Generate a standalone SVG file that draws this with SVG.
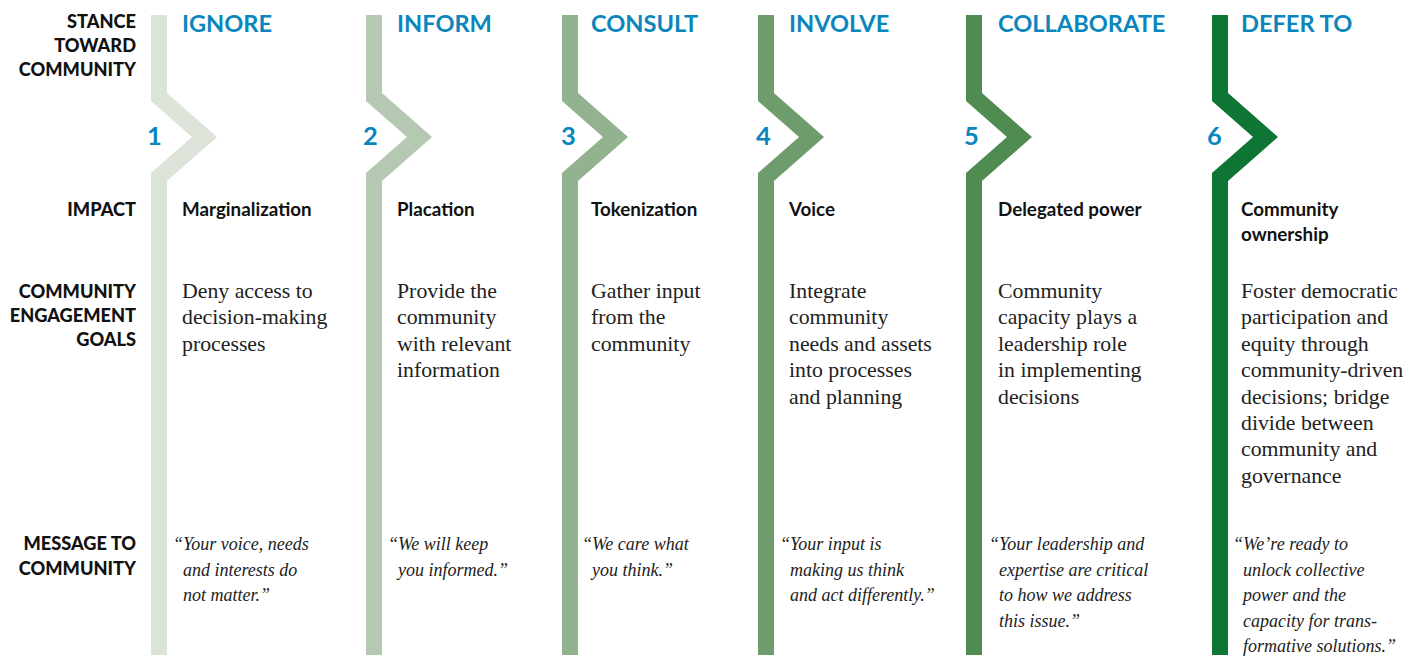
<svg xmlns="http://www.w3.org/2000/svg" xmlns:xlink="http://www.w3.org/1999/xlink" width="1415" height="661" viewBox="0 0 1415 661">
<style>
.lbl{font-family:Lato,"Liberation Sans",sans-serif;font-weight:900;font-size:18.2px;fill:#111;text-anchor:end}
.ttl{font-family:Lato,"Liberation Sans",sans-serif;font-weight:700;font-size:23.6px;fill:#0a86bd}
.num{font-family:Lato,"Liberation Sans",sans-serif;font-weight:700;font-size:25.5px;fill:#0a86bd}
.imp{font-family:Lato,"Liberation Sans",sans-serif;font-weight:700;font-size:18.8px;fill:#111}
.body{font-family:"Liberation Serif",serif;font-size:21.8px;fill:#222}
.quo{font-family:"Liberation Serif",serif;font-style:italic;font-size:18px;fill:#222}
</style>
<defs>
<path id="chev" d="M0,15 H16 V93 L66,137 L16,181 V655 H0 V173 L41,137 L0,101 Z"/>
</defs>
<rect width="1415" height="661" fill="#fff"/>
<g id="labels">
<text class="lbl"><tspan x="136" y="28">STANCE</tspan><tspan x="136" y="52">TOWARD</tspan><tspan x="136" y="76">COMMUNITY</tspan></text>
<text class="lbl" x="136" y="216">IMPACT</text>
<text class="lbl"><tspan x="136" y="298">COMMUNITY</tspan><tspan x="136" y="322">ENGAGEMENT</tspan><tspan x="136" y="346">GOALS</tspan></text>
<text class="lbl"><tspan x="136" y="550">MESSAGE TO</tspan><tspan x="136" y="575">COMMUNITY</tspan></text>
</g>
<g id="col1">
<use xlink:href="#chev" x="151" fill="#dce4da"/>
<text class="num" x="147" y="145">1</text>
<text class="ttl" x="182" y="32">IGNORE</text>
<text class="imp" x="182" y="216">Marginalization</text>
<text class="body"><tspan x="182" y="298">Deny access to</tspan><tspan x="182" y="324.4">decision-making</tspan><tspan x="182" y="350.8">processes</tspan></text>
<text class="quo"><tspan x="173" y="550">“Your voice, needs</tspan><tspan x="183" y="575.6">and interests do</tspan><tspan x="183" y="601.2">not matter.”</tspan></text>
</g>
<g id="col2">
<use xlink:href="#chev" x="366" fill="#b4c8b2"/>
<text class="num" x="363" y="145">2</text>
<text class="ttl" x="397" y="32">INFORM</text>
<text class="imp" x="397" y="216">Placation</text>
<text class="body"><tspan x="397" y="298">Provide the</tspan><tspan x="397" y="324.4">community</tspan><tspan x="397" y="350.8">with relevant</tspan><tspan x="397" y="377.2">information</tspan></text>
<text class="quo"><tspan x="388" y="550">“We will keep</tspan><tspan x="398" y="575.6">you informed.”</tspan></text>
</g>
<g id="col3">
<use xlink:href="#chev" x="562" fill="#93b28f"/>
<text class="num" x="561" y="145">3</text>
<text class="ttl" x="591" y="32">CONSULT</text>
<text class="imp" x="591" y="216">Tokenization</text>
<text class="body"><tspan x="591" y="298">Gather input</tspan><tspan x="591" y="324.4">from the</tspan><tspan x="591" y="350.8">community</tspan></text>
<text class="quo"><tspan x="582" y="550">“We care what</tspan><tspan x="592" y="575.6">you think.”</tspan></text>
</g>
<g id="col4">
<use xlink:href="#chev" x="758" fill="#6f9c6c"/>
<text class="num" x="756" y="145">4</text>
<text class="ttl" x="789" y="32">INVOLVE</text>
<text class="imp" x="789" y="216">Voice</text>
<text class="body"><tspan x="789" y="298">Integrate</tspan><tspan x="789" y="324.4">community</tspan><tspan x="789" y="350.8">needs and assets</tspan><tspan x="789" y="377.2">into processes</tspan><tspan x="789" y="403.6">and planning</tspan></text>
<text class="quo"><tspan x="780" y="550">“Your input is</tspan><tspan x="790" y="575.6">making us think</tspan><tspan x="790" y="601.2">and act differently.”</tspan></text>
</g>
<g id="col5">
<use xlink:href="#chev" x="966" fill="#508c52"/>
<text class="num" x="964" y="145">5</text>
<text class="ttl" x="998" y="32">COLLABORATE</text>
<text class="imp" x="998" y="216">Delegated power</text>
<text class="body"><tspan x="998" y="298">Community</tspan><tspan x="998" y="324.4">capacity plays a</tspan><tspan x="998" y="350.8">leadership role</tspan><tspan x="998" y="377.2">in implementing</tspan><tspan x="998" y="403.6">decisions</tspan></text>
<text class="quo"><tspan x="989" y="550">“Your leadership and</tspan><tspan x="999" y="575.6">expertise are critical</tspan><tspan x="999" y="601.2">to how we address</tspan><tspan x="999" y="626.8">this issue.”</tspan></text>
</g>
<g id="col6">
<use xlink:href="#chev" x="1212" fill="#0e7534"/>
<text class="num" x="1207" y="145">6</text>
<text class="ttl" x="1241" y="32">DEFER TO</text>
<text class="imp"><tspan x="1241" y="216">Community</tspan><tspan x="1241" y="241">ownership</tspan></text>
<text class="body"><tspan x="1241" y="298">Foster democratic</tspan><tspan x="1241" y="324.4">participation and</tspan><tspan x="1241" y="350.8">equity through</tspan><tspan x="1241" y="377.2">community-driven</tspan><tspan x="1241" y="403.6">decisions; bridge</tspan><tspan x="1241" y="430">divide between</tspan><tspan x="1241" y="456.4">community and</tspan><tspan x="1241" y="482.8">governance</tspan></text>
<text class="quo"><tspan x="1233" y="550">“We’re ready to</tspan><tspan x="1243" y="575.6">unlock collective</tspan><tspan x="1243" y="601.2">power and the</tspan><tspan x="1243" y="626.8">capacity for trans-</tspan><tspan x="1243" y="652.4">formative solutions.”</tspan></text>
</g>
<g id="connectors"/>
</svg>
